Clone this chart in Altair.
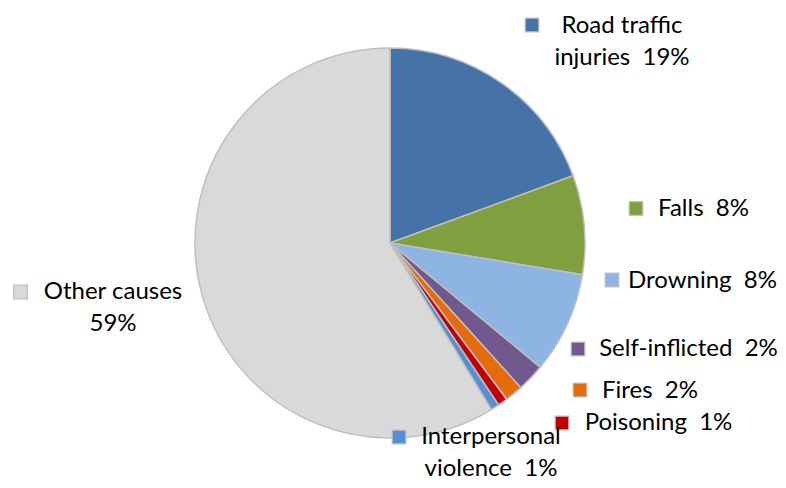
import altair as alt
import pandas as pd

# ---- data ----
causes = ["Road traffic injuries", "Falls", "Drowning", "Self-inflicted",
          "Fires", "Poisoning", "Interpersonal violence", "Other causes"]
shares = [19.4, 8.2, 8.4, 2.3, 1.5, 0.8, 0.7, 58.7]
label_names = ["Road traffic\ninjuries", "Falls", "Drowning", "Self-inflicted",
               "Fires", "Poisoning", "Interpersonal\nviolence", "Other causes"]
SP = "\u00a0\u00a0"
label_seps = [SP, SP, SP, SP, SP, SP, SP, "\n"]

# ---- styles ----
colors = ["#4572A7", "#80A040", "#8EB4E3", "#71588F",
          "#E46C0A", "#C00000", "#558ED5", "#D9D9D9"]
FONT = "Lato"
OFF = 8  # page margin
# label layout (page pixel positions of label centres / first-line middles and key squares)
text_cx = [622, 703.5, 702.5, 688.5, 650, 658.5, 491, 113]
text_cy = [26, 209, 281, 349, 391, 423, 437, 292]
key_x = [532, 636, 612, 578, 580, 562, 399, 20.5]
key_y = [25, 208.5, 280, 349, 390, 423, 437, 292]

labels = [f"{n}{s}{round(v)}%" for n, s, v in zip(label_names, label_seps, shares)]

df = pd.DataFrame({
    "cause": causes,
    "share": shares,
    "order": list(range(len(causes))),
    "label": labels,
    "tx": [v - OFF for v in text_cx],
    "ty": [v - OFF for v in text_cy],
    "kx": [v - OFF for v in key_x],
    "ky": [v - OFF for v in key_y],
})

color = alt.Color("cause:N", scale=alt.Scale(domain=causes, range=colors), legend=None)

base = alt.Chart(df)

pie = base.mark_arc(radius=195, x=390 - OFF, y=243 - OFF,
                    stroke="#BFBFBF", strokeWidth=1.5).encode(
    theta=alt.Theta("share:Q", stack=True),
    order=alt.Order("order:Q"),
    color=color,
)

keys = base.mark_square(size=185, opacity=1, filled=True,
                        stroke="#BFBFBF", strokeWidth=1.2).encode(
    x=alt.X("kx:Q", scale=None, axis=None),
    y=alt.Y("ky:Q", scale=None, axis=None),
    color=color,
)

texts = base.mark_text(font=FONT, fontSize=24, color="#000000", align="center",
                       baseline="middle", lineBreak="\n", lineHeight=32).encode(
    x=alt.X("tx:Q", scale=None, axis=None),
    y=alt.Y("ty:Q", scale=None, axis=None),
    text="label:N",
)

chart = alt.layer(pie, keys, texts).properties(
    width=770, height=472, autosize="none", padding=0
).configure_view(stroke=None)

chart.save("out.html", embed_options={"renderer": "svg", "actions": False})
